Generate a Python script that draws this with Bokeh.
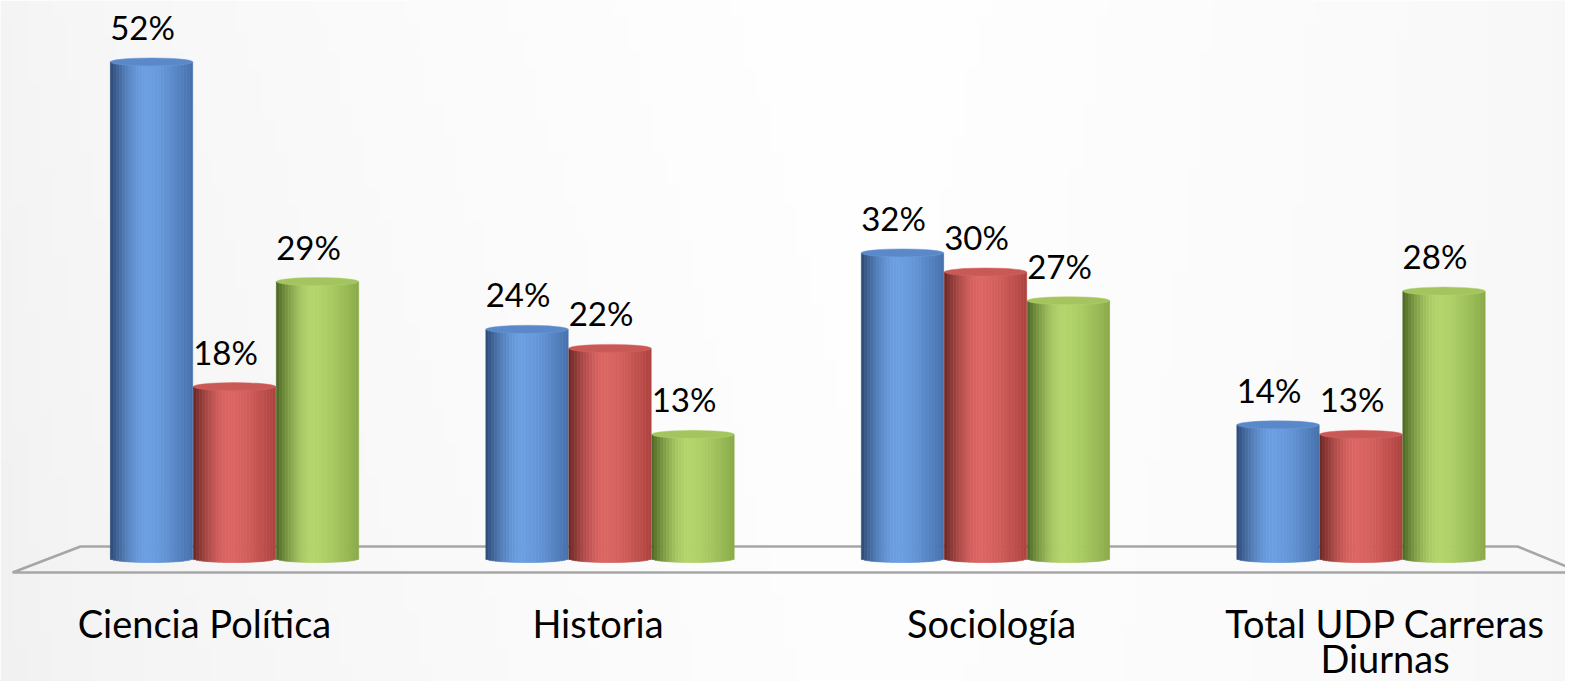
import numpy as np
from bokeh.plotting import figure
from bokeh.models import Range1d, ColumnDataSource, LabelSet
from bokeh.core.properties import value
from bokeh.embed import file_html
from bokeh.resources import INLINE

# ---------------- data ----------------
categories = ["Ciencia Política", "Historia", "Sociología", "Total UDP Carreras Diurnas"]
category_lines = ["Ciencia Política", "Historia", "Sociología", "Total UDP Carreras\nDiurnas"]
serie_1 = [52, 24, 32, 14]   # blue
serie_2 = [18, 22, 30, 13]   # red
serie_3 = [29, 13, 27, 28]   # green

# ---------------- style ----------------
W, H = 1565, 681
FONT = "Lato"
# (left-dark, highlight, right-edge, cap)
palettes = [
    ("#2c4a76", "#6c9fe2", "#4570ab", "#5a88c8"),
    ("#6a2624", "#dc6663", "#ad423f", "#c95956"),
    ("#4b6622", "#b3d56c", "#89aa48", "#a3c45e"),
]
offsets = [-0.221, 0.0, 0.221]
bar_w = 0.219
cap_r = 0.42      # ellipse half-height in y units
N_STRIPS = 28
X0, X1 = -0.6232, 3.5446
Y0, Y1 = -12.88, 58.43

p = figure(width=W, height=H, output_backend="svg", toolbar_location=None,
           x_range=Range1d(X0, X1), y_range=Range1d(Y0, Y1),
           min_border=0, outline_line_color=None, background_fill_color="#ffffff",
           border_fill_color="#ffffff")
p.axis.visible = False
p.grid.visible = False

# subtle background gradient
gh, gw = 40, 120
xs = np.linspace(0, 1, gw)[None, :]
ys = np.linspace(0, 1, gh)[:, None]
shade = 244 + 11 * np.clip(1 - np.abs(xs - 0.55) / 0.55, 0, 1) ** 0.6
shade = shade - 3 * (1 - ys) * (1 - xs)
shade = np.clip(shade, 0, 255).astype(np.uint32)
img = np.empty((gh, gw), dtype=np.uint32)
view = img.view(dtype=np.uint8).reshape((gh, gw, 4))
view[:, :, 0] = shade
view[:, :, 1] = shade
view[:, :, 2] = shade
view[:, :, 3] = 255
p.image_rgba(image=[img], x=X0, y=Y0, dw=X1 - X0, dh=Y1 - Y0)

# floor plane
p.patch(x=[-0.41, 3.417, 3.587, -0.591], y=[1.257, 1.257, -1.466, -1.466],
        fill_color=None, line_color="#a6a6a6", line_width=2.5)


def hex2rgb(h):
    return np.array([int(h[i:i + 2], 16) for i in (1, 3, 5)], dtype=float)


def shade_at(u, pal):
    dark, light, right = hex2rgb(pal[0]), hex2rgb(pal[1]), hex2rgb(pal[2])
    if u < 0.45:
        t = u / 0.45
        t = np.sin(t * np.pi / 2)
        c = dark + (light - dark) * t
    else:
        t = (u - 0.45) / 0.55
        t = t ** 1.5
        c = light + (right - light) * t
    return "#%02x%02x%02x" % tuple(int(round(v)) for v in c)


series = [serie_1, serie_2, serie_3]
for s, vals in enumerate(series):
    pal = palettes[s]
    xc = [i + offsets[s] for i in range(len(categories))]
    left, right, bottom, top, color = [], [], [], [], []
    for x0, v in zip(xc, vals):
        for k in range(N_STRIPS):
            u0 = k / N_STRIPS
            u1 = (k + 1) / N_STRIPS
            um = (u0 + u1) / 2
            e = np.sqrt(max(0.0, 1 - (2 * um - 1) ** 2))
            left.append(x0 - bar_w / 2 + u0 * bar_w)
            right.append(x0 - bar_w / 2 + u1 * bar_w)
            bottom.append(-cap_r * e)
            top.append(v)
            color.append(shade_at(um, pal))
    p.quad(left=left, right=right, bottom=bottom, top=top, fill_color=color,
           line_color=color, line_width=0.7)
    p.ellipse(x=xc, y=vals, width=bar_w, height=2 * cap_r, fill_color=pal[3],
              line_color=pal[1], line_width=0.8, line_alpha=0.6)

# percentage labels
for s, vals in enumerate(series):
    src = ColumnDataSource(dict(x=[i + offsets[s] for i in range(len(categories))],
                                y=vals, t=[f"{v}%" for v in vals]))
    p.add_layout(LabelSet(x="x", y="y", text="t", source=src, x_offset=-9, y_offset=22,
                          text_align="center", text_baseline="alphabetic",
                          text_font=value(FONT), text_font_size="33px",
                          text_color="#000000"))

# category labels (slightly spread by perspective), wrapped over lines
lab_x = [1.048 * i - 0.08 for i in range(len(categories))]
line_y = [-8.30, -12.0]
lx, ly, lt = [], [], []
for x, name in zip(lab_x, category_lines):
    for j, part in enumerate(name.split("\n")):
        lx.append(x)
        ly.append(line_y[j])
        lt.append(part)
p.add_layout(LabelSet(x="x", y="y", text="t",
                      source=ColumnDataSource(dict(x=lx, y=ly, t=lt)),
                      text_align="center", text_baseline="alphabetic",
                      text_font=value(FONT), text_font_size="38px",
                      text_color="#000000"))

open("out.html", "w").write(file_html(p, INLINE))
